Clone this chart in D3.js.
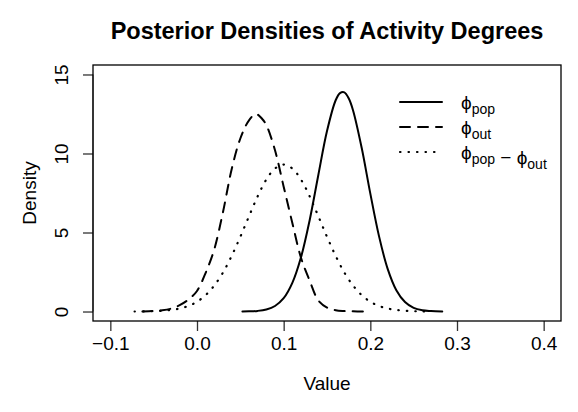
<!DOCTYPE html>
<html>
<head>
<meta charset="utf-8">
<script src="https://cdn.jsdelivr.net/npm/d3@7"></script>
<style>
	body { margin: 0; background: #fff; }
	svg text { font-family: "Liberation Sans", Arial, sans-serif; fill: #000; }
</style>
</head>
<body>
<svg id="chart" width="578" height="412"></svg>
<script>
"use strict";

// phi_pop (solid)
var popX = [0.0524, 0.06, 0.07, 0.08, 0.09, 0.10, 0.11, 0.12, 0.13, 0.14, 0.15, 0.16, 0.165, 0.17, 0.175, 0.18, 0.19, 0.20, 0.21, 0.22, 0.23, 0.24, 0.25, 0.26, 0.27, 0.283];
var popY = [0, 0.01, 0.04, 0.13, 0.35, 0.84, 1.81, 3.43, 5.78, 8.64, 11.42, 13.37, 13.82, 13.87, 13.49, 12.74, 10.36, 7.46, 4.77, 2.70, 1.35, 0.60, 0.23, 0.08, 0.03, 0];

// phi_out (dashed)
var outX = [-0.063, -0.05, -0.04, -0.03, -0.02, -0.01, 0.00, 0.01, 0.02, 0.03, 0.04, 0.05, 0.06, 0.068, 0.075, 0.08, 0.09, 0.10, 0.11, 0.12, 0.13, 0.14, 0.15, 0.16, 0.17, 0.18, 0.192];
var outY = [0, 0.04, 0.08, 0.18, 0.40, 0.75, 1.30, 2.45, 3.95, 6.30, 9.00, 10.95, 12.10, 12.50, 12.20, 11.80, 10.20, 7.90, 5.60, 3.40, 1.95, 0.70, 0.25, 0.08, 0.03, 0.01, 0];

// phi_pop - phi_out (dotted)
var diffX = [-0.072, -0.06, -0.05, -0.04, -0.03, -0.02, -0.01, 0.00, 0.01, 0.02, 0.03, 0.04, 0.05, 0.06, 0.07, 0.08, 0.09, 0.10, 0.11, 0.12, 0.13, 0.14, 0.15, 0.16, 0.17, 0.18, 0.19, 0.20, 0.21, 0.22, 0.23, 0.24, 0.25, 0.26, 0.27];
var diffY = [0, 0.01, 0.02, 0.05, 0.10, 0.19, 0.35, 0.62, 1.04, 1.65, 2.47, 3.52, 4.73, 6.03, 7.29, 8.35, 9.05, 9.30, 9.05, 8.35, 7.29, 6.03, 4.73, 3.52, 2.47, 1.65, 1.04, 0.62, 0.35, 0.19, 0.10, 0.05, 0.02, 0.01, 0];

var xTicks = [-0.1, 0.0, 0.1, 0.2, 0.3, 0.4];
var yTicks = [0, 5, 10, 15];

var legendLabels = [
	[{t: "\u03d5"}, {t: "pop", sub: true}],
	[{t: "\u03d5"}, {t: "out", sub: true}],
	[{t: "\u03d5"}, {t: "pop", sub: true}, {t: " \u2212 "}, {t: "\u03d5"}, {t: "out", sub: true}]
];

+function(d3, window){

	var svg = d3.select('#chart');
	var plot = {left: 93, right: 561, top: 65, bottom: 321};

	var x = d3.scaleLinear().domain([-0.12, 0.42]).range([plot.left, plot.right]);
	var y = d3.scaleLinear().domain([-0.6, 15.6]).range([plot.bottom, plot.top]);

	//Title
	svg.append('text')
		.attr('x', (plot.left + plot.right) / 2)
		.attr('y', 39)
		.attr('text-anchor', 'middle')
		.attr('font-size', 23.5)
		.attr('font-weight', 'bold')
		.text('Posterior Densities of Activity Degrees');

	//X Axis
	var xAxis = svg.append('g')
		.attr('transform', 'translate(0,' + plot.bottom + ')')
		.call(d3.axisBottom(x).tickValues(xTicks).tickSize(10).tickPadding(6).tickFormat(d3.format('.1f')));
	xAxis.select('.domain').remove();
	xAxis.selectAll('.tick line').attr('stroke', '#333').attr('stroke-width', 1.3);
	xAxis.selectAll('.tick text').attr('font-size', 19).attr('font-family', '"Liberation Sans", Arial, sans-serif');

	//Y Axis
	var yAxis = svg.append('g')
		.attr('transform', 'translate(' + plot.left + ',0)')
		.call(d3.axisLeft(y).tickValues(yTicks).tickSize(10));
	yAxis.select('.domain')
		.attr('d', 'M0,' + y(yTicks[0]) + 'V' + y(yTicks[yTicks.length - 1]))
		.attr('stroke', '#333');
	yAxis.selectAll('.tick line').attr('stroke', '#333').attr('stroke-width', 1.3);
	yAxis.selectAll('.tick text')
		.attr('x', 0)
		.attr('dy', 0)
		.attr('transform', 'translate(-25,0) rotate(-90)')
		.attr('text-anchor', 'middle')
		.attr('font-size', 19)
		.attr('font-family', '"Liberation Sans", Arial, sans-serif');

	//Axis Titles
	svg.append('text')
		.attr('x', (plot.left + plot.right) / 2)
		.attr('y', 390)
		.attr('text-anchor', 'middle')
		.attr('font-size', 19)
		.text('Value');

	svg.append('text')
		.attr('transform', 'translate(36,' + (plot.top + plot.bottom) / 2 + ') rotate(-90)')
		.attr('text-anchor', 'middle')
		.attr('font-size', 19)
		.text('Density');

	//Box
	svg.append('rect')
		.attr('x', plot.left)
		.attr('y', plot.top)
		.attr('width', plot.right - plot.left)
		.attr('height', plot.bottom - plot.top)
		.attr('fill', 'none')
		.attr('stroke', '#000')
		.attr('stroke-width', 1.3);

	//Curves
	var styles = [
		{dash: null, width: 2},
		{dash: '10,8', width: 2},
		{dash: '0.5,8', width: 2.2}
	];
	var series = [
		d3.zip(popX, popY),
		d3.zip(outX, outY),
		d3.zip(diffX, diffY)
	];
	var line = d3.line()
		.x(function(d) { return x(d[0]); })
		.y(function(d) { return y(d[1]); })
		.curve(d3.curveCatmullRom);

	series.forEach(function(s, i) {
		svg.append('path')
			.datum(s)
			.attr('d', line)
			.attr('fill', 'none')
			.attr('stroke', '#000')
			.attr('stroke-width', styles[i].width)
			.attr('stroke-linecap', 'round')
			.attr('stroke-dasharray', styles[i].dash);
	});

	//Legend
	var legend = svg.append('g').attr('transform', 'translate(400,102)');
	legendLabels.forEach(function(parts, i) {
		var row = legend.append('g').attr('transform', 'translate(0,' + (i * 25) + ')');
		row.append('line')
			.attr('x1', 0).attr('x2', 42)
			.attr('stroke', '#000')
			.attr('stroke-width', styles[i].width)
			.attr('stroke-linecap', 'round')
			.attr('stroke-dasharray', styles[i].dash);
		var txt = row.append('text').attr('x', 61).attr('y', 7).attr('font-size', 19);
		parts.forEach(function(p) {
			txt.append('tspan')
				.attr('font-size', p.sub ? 14 : 19)
				.attr('dy', p.sub ? 5 : null)
				.text(p.t);
			if (p.sub) txt.append('tspan').attr('dy', -5).text('');
		});
	});

}(d3, window);
</script>
</body>
</html>
